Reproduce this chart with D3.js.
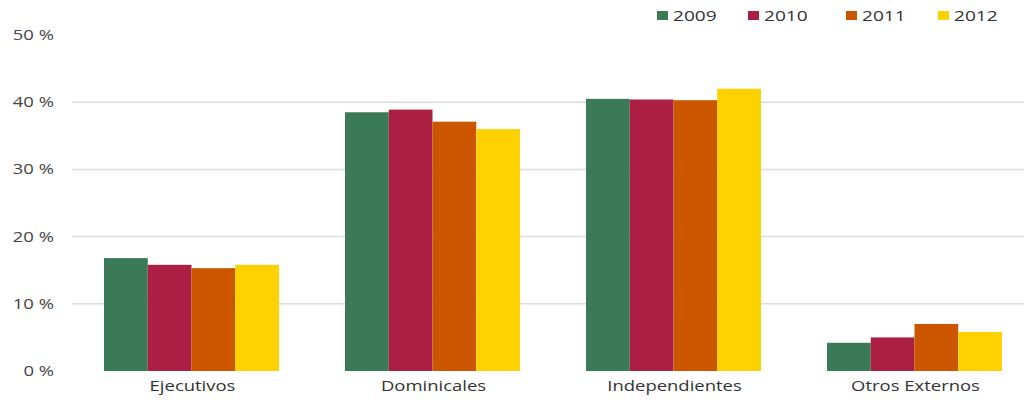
<!DOCTYPE html>
<html><head><meta charset="utf-8">
<script src="https://cdn.jsdelivr.net/npm/d3@7"></script>
<style>body{margin:0;background:#fff;} text{font-family:"Open Sans",sans-serif;}</style>
</head><body><svg id="c" width="1024" height="401"></svg>
<script>
const categories = ["Ejecutivos", "Dominicales", "Independientes", "Otros Externos"];
const years = ["2009", "2010", "2011", "2012"];
const values2009 = [16.8, 38.5, 40.5, 4.2];
const values2010 = [15.8, 38.9, 40.4, 5.0];
const values2011 = [15.3, 37.1, 40.3, 7.0];
const values2012 = [15.8, 36.0, 42.0, 5.8];
const yTicks = [0, 10, 20, 30, 40, 50];
const colors = ["#3b7a57", "#ab1f44", "#cc5500", "#fed200"];

const series = [values2009, values2010, values2011, values2012];
const svg = d3.select("#c");
const x0 = d3.scaleBand().domain(categories).range([71, 1035]).paddingInner(0.274).paddingOuter(0.137);
const x1 = d3.scaleBand().domain(years).range([0, x0.bandwidth()]).padding(0);
const y = d3.scaleLinear().domain([0, 50]).range([371, 35]);
const color = d3.scaleOrdinal().domain(years).range(colors);
const SX = 1.32;

// gridlines
svg.append("g").selectAll("line").data(yTicks.filter(t => t > 0 && t < 50)).join("line")
  .attr("x1", 72).attr("x2", 1024).attr("y1", d => y(d)).attr("y2", d => y(d))
  .attr("stroke", "#dcdcdc").attr("stroke-width", 1.5);

// y labels
svg.append("g").selectAll("text").data(yTicks).join("text")
  .attr("transform", d => `translate(54,${y(d)}) scale(${SX},1)`)
  .attr("dy", "0.35em").attr("text-anchor", "end")
  .attr("font-size", 14).attr("fill", "#444").text(d => d + " %");

// bars
const g = svg.append("g").selectAll("g").data(categories).join("g")
  .attr("transform", d => `translate(${x0(d)},0)`);
g.selectAll("rect").data((d, i) => years.map((yr, j) => ({yr, v: series[j][i]}))).join("rect")
  .attr("x", d => x1(d.yr)).attr("width", x1.bandwidth())
  .attr("y", d => y(d.v)).attr("height", d => y(0) - y(d.v))
  .attr("fill", d => color(d.yr));

// category labels
svg.append("g").selectAll("text").data(categories).join("text")
  .attr("transform", d => `translate(${x0(d) + x0.bandwidth() / 2 + 1},391) scale(${SX},1)`)
  .attr("text-anchor", "middle")
  .attr("font-size", 14).attr("fill", "#333").text(d => d);

// legend
const legX = [657, 748, 846, 938];
const leg = svg.append("g").selectAll("g").data(years).join("g")
  .attr("transform", (d, i) => `translate(${legX[i]},0)`);
leg.append("rect").attr("x", 0).attr("y", 11).attr("width", 11).attr("height", 9).attr("fill", d => color(d));
leg.append("text").attr("transform", `translate(16,16) scale(${SX},1)`).attr("dy", "0.35em").attr("font-size", 14.5)
  .attr("fill", "#333").text(d => d);
</script></body></html>
